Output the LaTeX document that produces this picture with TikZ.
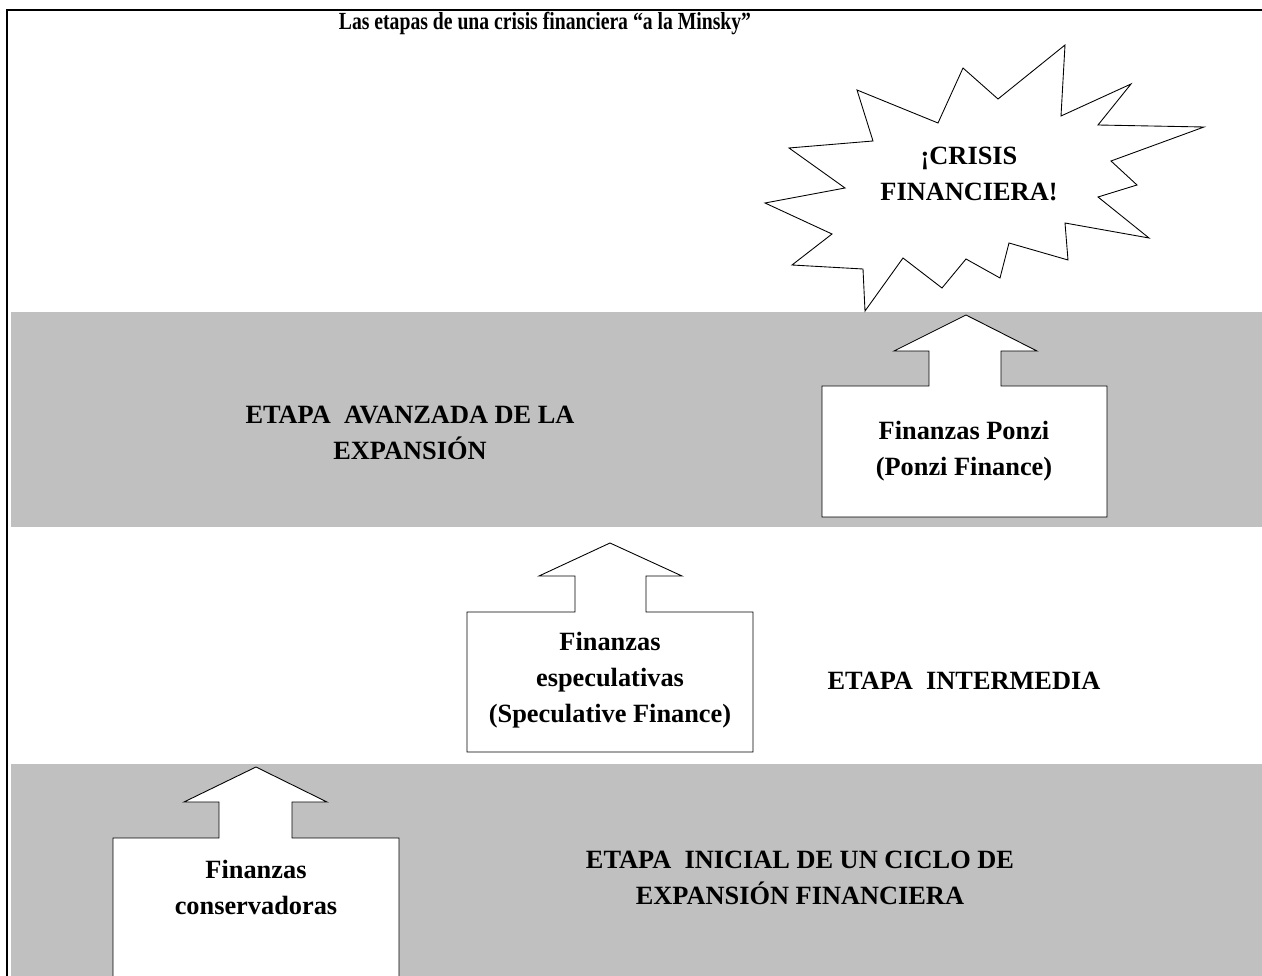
\documentclass[tikz,border=0pt]{standalone}
\usepackage{fontspec}
\setmainfont{Liberation Serif}
\tikzset{
    band/.style={fill=bandgray, draw=none},
    arrowbox/.style={draw, fill=white, line width=0.5pt, line join=miter},
    label/.style={font=\bfseries\fontsize{15}{20.5}\selectfont, align=center, inner sep=0pt}
}
\definecolor{bandgray}{RGB}{192,192,192}
\begin{document}
\begin{tikzpicture}[x=0.02cm, y=-0.02cm]
    \useasboundingbox (0,0) rectangle (1262,976);
    \clip (0,0) rectangle (1262,976);
    % grey stages
    \fill[band] (11,312) rectangle (1262,527);
    \fill[band] (11,764) rectangle (1262,976);
    % frame
    \draw[line width=1.3pt] (7,980) -- (7,10) -- (1270,10);
    \node[font=\bfseries\fontsize{14}{16}\selectfont, inner sep=0pt] (title) at (545,24) {\scalebox{0.8}[1]{Las etapas de una crisis financiera ``a la Minsky''}};
    % boxes with up arrows
    \draw[arrowbox] (113,990) -- (113,838) -- (219,838) -- (219,802) -- (184,802) -- (256,767) -- (327,802) -- (292,802) -- (292,838) -- (399,838) -- (399,990);
    \draw[arrowbox] (467,752) -- (467,612) -- (575,612) -- (575,576) -- (539,576) -- (610,543) -- (682,576) -- (646,576) -- (646,612) -- (753,612) -- (753,752) -- cycle;
    \draw[arrowbox] (822,517) -- (822,386) -- (929,386) -- (929,351) -- (894,351) -- (966,315) -- (1037,351) -- (1001,351) -- (1001,386) -- (1107,386) -- (1107,517) -- cycle;
    % explosion
    \draw[arrowbox] (1065,45) -- (1061,116) -- (1131,84) -- (1098,125) -- (1204,127) -- (1111,161) -- (1137,185) -- (1098,197) -- (1149,238) -- (1065,223) -- (1068,260) -- (1009,243) -- (1000,278) -- (966,259) -- (942,288) -- (903,258) -- (865,311) -- (863,269) -- (792,265) -- (832,234) -- (765,203) -- (845,188) -- (789,148) -- (873,141) -- (857,90) -- (938,123) -- (963,68) -- (998,99) -- cycle;
    \node[label] (crisis) at (969,174) {¡CRISIS\\FINANCIERA!};
    % stage names
    \node[label] (advanced) at (410,433) {ETAPA\ \ AVANZADA DE LA\\EXPANSIÓN};
    \node[label] (middle) at (964,681) {ETAPA\ \ INTERMEDIA};
    \node[label] (initial) at (800,878) {ETAPA\ \ INICIAL DE UN CICLO DE\\EXPANSIÓN FINANCIERA};
    % finance types
    \node[label] (ponzi) at (964,451) {Finanzas Ponzi\\(Ponzi Finance)};
    \node[label] (speculative) at (610,680) {Finanzas\\especulativas\\(Speculative Finance)};
    \node[label] (hedge) at (256,887) {Finanzas\\conservadoras};
\end{tikzpicture}
\end{document}
